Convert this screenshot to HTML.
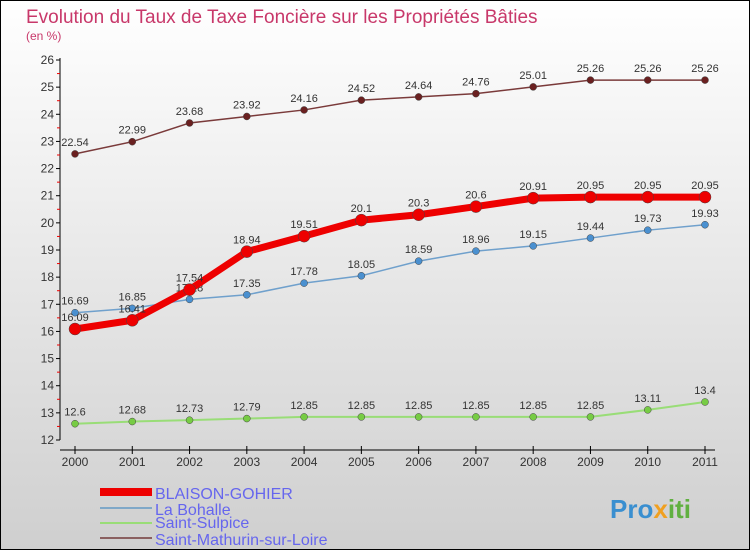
<!DOCTYPE html>
<html><head><meta charset="utf-8"><style>
body{margin:0}
#c{width:750px;height:550px;position:relative;font-family:"Liberation Sans",sans-serif}
svg text{font-family:"Liberation Sans",sans-serif}
</style></head><body>
<div id="c">
<svg id="s" width="750" height="550" xmlns="http://www.w3.org/2000/svg">
<defs><linearGradient id="bg" x1="0" y1="0" x2="0" y2="1"><stop offset="0" stop-color="#ffffff"/><stop offset="1" stop-color="#cfcfcf"/></linearGradient></defs>
<rect x="0.5" y="0.5" width="749" height="549" fill="url(#bg)" stroke="#000"/>
<text x="26" y="23" font-size="19" fill="#c8386a">Evolution du Taux de Taxe Foncière sur les Propriétés Bâties</text>
<text x="26" y="40" font-size="12" fill="#c8386a">(en %)</text>
<g id="axes"></g><g id="series"></g>
<g>
<rect x="100" y="488" width="52" height="8" fill="#e00"/>
<text x="155" y="499" font-size="16" fill="#6666ee">BLAISON-GOHIER</text>
<rect x="100" y="507" width="52" height="2" fill="#7fa8c8"/>
<text x="155" y="515" font-size="16" fill="#6666ee">La Bohalle</text>
<rect x="100" y="522" width="52" height="2" fill="#99dd77"/>
<text x="155" y="528" font-size="16" fill="#6666ee">Saint-Sulpice</text>
<rect x="100" y="537" width="52" height="2" fill="#8a6060"/>
<text x="155" y="545" font-size="16" fill="#6666ee">Saint-Mathurin-sur-Loire</text>
</g>
<text x="610" y="518" font-size="26" font-weight="bold" fill="#3a8fd0">Pro<tspan fill="#f0a020">x</tspan><tspan fill="#60b040">iti</tspan></text>
</svg>
</div>
<script>
const years=[2000,2001,2002,2003,2004,2005,2006,2007,2008,2009,2010,2011];
const yTicks=[12,13,14,15,16,17,18,19,20,21,22,23,24,25,26];
const blaison=[16.09,16.41,17.54,18.94,19.51,20.1,20.3,20.6,20.91,20.95,20.95,20.95];
const bohalle=[16.69,16.85,17.18,17.35,17.78,18.05,18.59,18.96,19.15,19.44,19.73,19.93];
const sulpice=[12.6,12.68,12.73,12.79,12.85,12.85,12.85,12.85,12.85,12.85,13.11,13.4];
const mathurin=[22.54,22.99,23.68,23.92,24.16,24.52,24.64,24.76,25.01,25.26,25.26,25.26];
const NS="http://www.w3.org/2000/svg";
const x=i=>75+i*(630/11);
const y=v=>440-(v-12)*(380/14);
function mk(t,a,p){const e=document.createElementNS(NS,t);for(const k in a)e.setAttribute(k,a[k]);p.appendChild(e);return e;}
const ax=document.getElementById('axes');
let l=mk('line',{x1:60,y1:58,x2:60,y2:440,stroke:'#000'},ax);


l=mk('line',{x1:60,y1:450,x2:715,y2:450,stroke:'#000'},ax);


yTicks.forEach(v=>{
 mk('line',{x1:56,y1:y(v),x2:60,y2:y(v),stroke:'#000'},ax);
 if(v<26) mk('line',{x1:57,y1:y(v+0.5),x2:60,y2:y(v+0.5),stroke:'#e00'},ax);
 const t=mk('text',{x:54,y:y(v)+4,'font-size':12,'text-anchor':'end',fill:'#333'},ax);t.textContent=v;
 
 
});
years.forEach((yr,i)=>{
 mk('line',{x1:x(i),y1:446,x2:x(i),y2:454,stroke:'#000'},ax);
 const t=mk('text',{x:x(i),y:466,'font-size':12,'text-anchor':'middle',fill:'#333'},ax);t.textContent=yr;
 
 
});
const sg=document.getElementById('series');
function series(d,name,col,w,r,fill){
 const g=mk('g',{},sg);
 
 
 const p=mk('polyline',{points:d.map((v,i)=>x(i)+','+y(v)).join(' '),fill:'none',stroke:col,'stroke-width':w},g);
 
 
 d.forEach((v,i)=>{
  const c=mk('circle',{cx:x(i),cy:y(v),r:r,fill:fill,stroke:'#444','stroke-width':0.5},g);
  
  
  const t=mk('text',{x:x(i),y:y(v)-8,'font-size':11,'text-anchor':'middle',fill:'#333'},g);t.textContent=v;
  
  
 });
}
series(mathurin,'mathurin','#7a3a3a',1.5,3.5,'#6a2020');
series(sulpice,'sulpice','#99dd77',2,3.5,'#77cc44');
series(bohalle,'bohalle','#6fa0cc',1.5,3.5,'#4a90d0');
series(blaison,'blaison','#e00',7,6,'#e00');
</script>
</body></html>
